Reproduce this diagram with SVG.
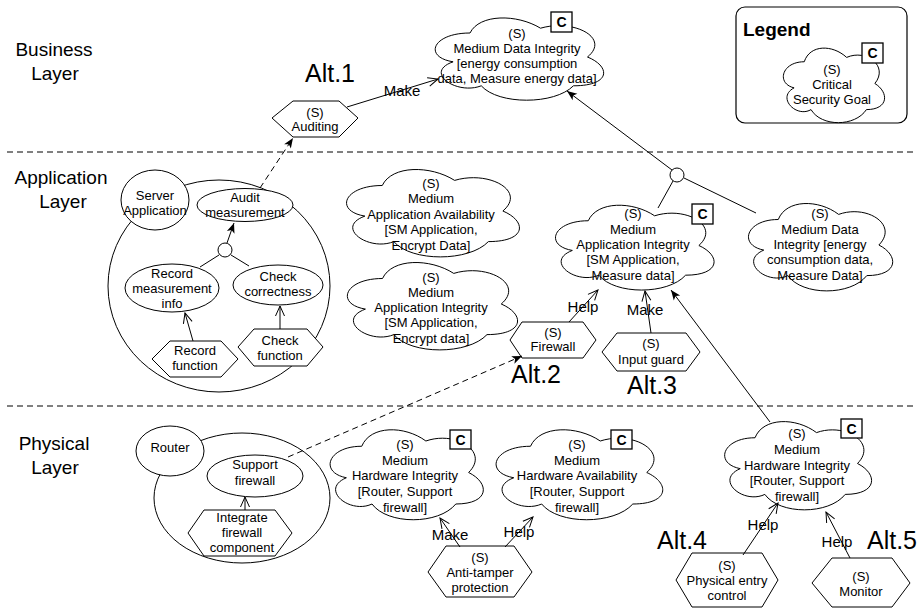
<svg xmlns="http://www.w3.org/2000/svg" xmlns:xlink="http://www.w3.org/1999/xlink" width="917" height="608" viewBox="0 0 917 608">
<style>
text{font-family:"Liberation Sans",Arial,Helvetica,sans-serif;fill:#000;}
.t{font-size:13px;text-anchor:middle;}
.lbl{font-size:15px;text-anchor:middle;}
.layer{font-size:19px;text-anchor:middle;}
.alt{font-size:25px;}
.shape{fill:#fff;stroke:#000;stroke-width:1;}
.cbox{fill:#fff;stroke:#000;stroke-width:1.3;}
.c{font-size:14px;font-weight:bold;text-anchor:middle;}
.ln{fill:none;stroke:#000;stroke-width:1;}
.dash{fill:none;stroke:#000;stroke-width:1;stroke-dasharray:6 4;}
</style>
<defs>
<path id="cloud" d="M25,25 C5,25 0,50 16,55 C0,66 18,90 31,80 C40,100 70,100 80,80 C100,80 100,60 87.5,50 C100,30 80,10 62.5,20 C50,5 30,5 25,25 Z" vector-effect="non-scaling-stroke"/>
<marker id="classic" markerWidth="12" markerHeight="10" refX="11" refY="5" orient="auto" markerUnits="userSpaceOnUse"><path d="M1,1 L11,5 L1,9 L3.5,5 Z" fill="#000"/></marker>
<marker id="open" markerWidth="12" markerHeight="12" refX="11" refY="6" orient="auto" markerUnits="userSpaceOnUse"><path d="M1,1.5 L11,6 L1,10.5" fill="none" stroke="#000" stroke-width="1"/></marker>
</defs>
<rect width="917" height="608" fill="#fff"/>

<g id="layers">
<line class="dash" x1="7" y1="152" x2="917" y2="152"/>
<line class="dash" x1="7" y1="406" x2="917" y2="406"/>
<text class="layer" x="54" y="56">Business</text>
<text class="layer" x="55" y="80">Layer</text>
<text class="layer" x="61" y="184">Application</text>
<text class="layer" x="63" y="208">Layer</text>
<text class="layer" x="54" y="450">Physical</text>
<text class="layer" x="55" y="474">Layer</text>
<text class="alt" x="305" y="82">Alt.1</text>
<text class="alt" x="511" y="383">Alt.2</text>
<text class="alt" x="627" y="394">Alt.3</text>
<text class="alt" x="657" y="549">Alt.4</text>
<text class="alt" x="867" y="549">Alt.5</text>
</g>

<g id="legend">
<rect x="736" y="7" width="171" height="116" rx="9" fill="#fff" stroke="#000" stroke-width="1.2"/>
<text x="743" y="36" style="font-size:19px;font-weight:bold">Legend</text>
<use href="#cloud" class="shape" transform="translate(776,40) scale(1.13,0.87)"/>
<rect class="cbox" x="862" y="43" width="21" height="20"/>
<text class="c" x="872.5" y="58">C</text>
<text class="t" x="832" y="73.5">(S)</text>
<text class="t" x="832" y="88.5">Critical</text>
<text class="t" x="832" y="103.5">Security Goal</text>
</g>

<g id="goal-data-integrity">
<use href="#cloud" class="shape" transform="translate(423,9) scale(1.88,0.96)"/>
<rect class="cbox" x="551" y="12" width="21" height="20"/>
<text class="c" x="561.5" y="27">C</text>
<text class="t" x="517" y="38">(S)</text>
<text class="t" x="517" y="53">Medium Data Integrity</text>
<text class="t" x="517" y="68">[energy consumption</text>
<text class="t" x="517" y="83">data, Measure energy data]</text>
</g>

<g id="auditing">
<polygon class="shape" points="272,118 293,101 339,101 358,118 339,137 293,137"/>
<text class="t" x="315" y="116.5">(S)</text>
<text class="t" x="315" y="131">Auditing</text>
</g>

<g id="server-application">
<ellipse class="shape" cx="219" cy="286" rx="111" ry="106"/>
<ellipse class="shape" cx="155" cy="200" rx="34" ry="30"/>
<text class="t" x="155" y="199.5">Server</text>
<text class="t" x="155" y="214.5">Application</text>
</g>

<g id="audit-measurement">
<ellipse class="shape" cx="245" cy="205" rx="48" ry="16.5"/>
<text class="t" x="245" y="201.5">Audit</text>
<text class="t" x="245" y="216.5">measurement</text>
</g>

<g id="and-app-left">
<circle class="shape" cx="225" cy="250" r="7"/>
</g>

<g id="record-measurement">
<ellipse class="shape" cx="172" cy="288" rx="47" ry="24"/>
<text class="t" x="172" y="277.5">Record</text>
<text class="t" x="172" y="292.5">measurement</text>
<text class="t" x="172" y="307.5">info</text>
</g>

<g id="check-correctness">
<ellipse class="shape" cx="278" cy="285" rx="45" ry="20"/>
<text class="t" x="278" y="280.5">Check</text>
<text class="t" x="278" y="295.5">correctness</text>
</g>

<g id="record-function">
<polygon class="shape" points="152,359 170,341 221,341 238,359 221,377 170,377"/>
<text class="t" x="195" y="354.5">Record</text>
<text class="t" x="195" y="369.5">function</text>
</g>

<g id="check-function">
<polygon class="shape" points="238,347 254,329 307,329 323,347 307,366 254,366"/>
<text class="t" x="280" y="344.5">Check</text>
<text class="t" x="280" y="359.5">function</text>
</g>

<g id="goal-app-availability">
<use href="#cloud" class="shape" transform="translate(334,160) scale(1.93,1.02)"/>
<text class="t" x="431" y="187.5">(S)</text>
<text class="t" x="431" y="203">Medium</text>
<text class="t" x="431" y="218.5">Application Availability</text>
<text class="t" x="431" y="234">[SM Application,</text>
<text class="t" x="431" y="249.5">Encrypt Data]</text>
</g>

<g id="goal-app-integrity-mid">
<use href="#cloud" class="shape" transform="translate(335,253) scale(1.90,1.02)"/>
<text class="t" x="431" y="281.5">(S)</text>
<text class="t" x="431" y="296.5">Medium</text>
<text class="t" x="431" y="311.5">Application Integrity</text>
<text class="t" x="431" y="327">[SM Application,</text>
<text class="t" x="431" y="342.5">Encrypt data]</text>
</g>

<g id="and-app-right">
<circle class="shape" cx="677" cy="175" r="7"/>
</g>

<g id="goal-app-integrity">
<use href="#cloud" class="shape" transform="translate(544,196) scale(1.77,0.99)"/>
<rect class="cbox" x="692" y="204" width="21" height="20"/>
<text class="c" x="702.5" y="219">C</text>
<text class="t" x="633" y="217.5">(S)</text>
<text class="t" x="633" y="233.5">Medium</text>
<text class="t" x="633" y="248.5">Application Integrity</text>
<text class="t" x="633" y="263.5">[SM Application,</text>
<text class="t" x="633" y="279.5">Measure data]</text>
</g>

<g id="goal-data-integrity-app">
<use href="#cloud" class="shape" transform="translate(738,194) scale(1.61,1.02)"/>
<text class="t" x="820" y="217.5">(S)</text>
<text class="t" x="820" y="233.5">Medium Data</text>
<text class="t" x="820" y="248.5">Integrity [energy</text>
<text class="t" x="820" y="263.5">consumption data,</text>
<text class="t" x="820" y="279.5">Measure Data]</text>
</g>

<g id="firewall">
<polygon class="shape" points="510,340 522,322 583,322 596,340 583,358 522,358"/>
<text class="t" x="553" y="336.5">(S)</text>
<text class="t" x="553" y="350.5">Firewall</text>
</g>

<g id="input-guard">
<polygon class="shape" points="602,352 617,333 686,333 700,352 686,371 617,371"/>
<text class="t" x="651" y="347.5">(S)</text>
<text class="t" x="651" y="363.5">Input guard</text>
</g>

<g id="router">
<ellipse class="shape" cx="242" cy="498" rx="88" ry="65"/>
<ellipse class="shape" cx="170" cy="451" rx="34" ry="25"/>
<text class="t" x="170" y="451.5">Router</text>
</g>

<g id="support-firewall">
<ellipse class="shape" cx="255" cy="476" rx="48" ry="21"/>
<text class="t" x="255" y="468.5">Support</text>
<text class="t" x="255" y="484.5">firewall</text>
</g>

<g id="integrate-firewall">
<polygon class="shape" points="188,533 204,510 275,510 292,533 275,556 204,556"/>
<text class="t" x="242" y="522">Integrate</text>
<text class="t" x="242" y="537">firewall</text>
<text class="t" x="242" y="552">component</text>
</g>

<g id="goal-hw-integrity-mid">
<use href="#cloud" class="shape" transform="translate(319,420) scale(1.71,1.05)"/>
<rect class="cbox" x="450" y="430" width="21" height="19"/>
<text class="c" x="460.5" y="444.5">C</text>
<text class="t" x="405" y="448.5">(S)</text>
<text class="t" x="405" y="464.5">Medium</text>
<text class="t" x="405" y="479.5">Hardware Integrity</text>
<text class="t" x="405" y="495.5">[Router, Support</text>
<text class="t" x="405" y="511.5">firewall]</text>
</g>

<g id="goal-hw-availability">
<use href="#cloud" class="shape" transform="translate(484,420) scale(1.86,1.05)"/>
<rect class="cbox" x="611" y="430" width="21" height="19"/>
<text class="c" x="621.5" y="444.5">C</text>
<text class="t" x="577" y="448.5">(S)</text>
<text class="t" x="577" y="464.5">Medium</text>
<text class="t" x="577" y="479.5">Hardware Availability</text>
<text class="t" x="577" y="495.5">[Router, Support</text>
<text class="t" x="577" y="511.5">firewall]</text>
</g>

<g id="anti-tamper">
<polygon class="shape" points="428,572 446,546 514,546 532,572 514,597 446,597"/>
<text class="t" x="480" y="561.5">(S)</text>
<text class="t" x="480" y="576.5">Anti-tamper</text>
<text class="t" x="480" y="591.5">protection</text>
</g>

<g id="goal-hw-integrity-right">
<use href="#cloud" class="shape" transform="translate(714,412) scale(1.64,1.03)"/>
<rect class="cbox" x="841" y="419" width="21" height="19"/>
<text class="c" x="851.5" y="433.5">C</text>
<text class="t" x="797" y="437.5">(S)</text>
<text class="t" x="797" y="453.5">Medium</text>
<text class="t" x="797" y="469.5">Hardware Integrity</text>
<text class="t" x="797" y="484.5">[Router, Support</text>
<text class="t" x="797" y="500.5">firewall]</text>
</g>

<g id="physical-entry">
<polygon class="shape" points="676,580 692,553 762,553 778,580 762,607 692,607"/>
<text class="t" x="727" y="570">(S)</text>
<text class="t" x="727" y="585">Physical entry</text>
<text class="t" x="727" y="600">control</text>
</g>

<g id="monitor">
<polygon class="shape" points="812,583 832,558 892,558 910,583 892,607 832,607"/>
<text class="t" x="861" y="581">(S)</text>
<text class="t" x="861" y="596">Monitor</text>
</g>

<g id="connectors">
<line class="ln" x1="347" y1="107" x2="438" y2="79" marker-end="url(#open)"/>
<text class="lbl" x="402" y="96">Make</text>
<line class="dash" x1="260" y1="188" x2="293" y2="138" marker-end="url(#classic)"/>
<line class="ln" x1="227" y1="243" x2="234" y2="223" marker-end="url(#classic)"/>
<line class="ln" x1="219" y1="255" x2="200" y2="267"/>
<line class="ln" x1="231" y1="255" x2="249" y2="266"/>
<line class="ln" x1="193" y1="341" x2="185" y2="313" marker-end="url(#open)"/>
<line class="ln" x1="280" y1="329" x2="280" y2="306" marker-end="url(#open)"/>
<line class="ln" x1="672" y1="170" x2="567" y2="91" marker-end="url(#classic)"/>
<line class="ln" x1="673" y1="181" x2="658" y2="208"/>
<line class="ln" x1="684" y1="178" x2="756" y2="213"/>
<line class="ln" x1="569" y1="322" x2="598" y2="290" marker-end="url(#open)"/>
<text class="lbl" x="583" y="312">Help</text>
<line class="ln" x1="651" y1="333" x2="645" y2="291" marker-end="url(#open)"/>
<text class="lbl" x="645" y="315">Make</text>
<line class="ln" x1="770" y1="422" x2="671" y2="290" marker-end="url(#classic)"/>
<line class="dash" x1="288" y1="457" x2="522" y2="356" marker-end="url(#classic)"/>
<line class="ln" x1="245" y1="510" x2="245" y2="497" marker-end="url(#open)"/>
<line class="ln" x1="460" y1="547" x2="440" y2="518" marker-end="url(#open)"/>
<text class="lbl" x="450" y="540">Make</text>
<line class="ln" x1="505" y1="547" x2="533" y2="517" marker-end="url(#open)"/>
<text class="lbl" x="519" y="537">Help</text>
<line class="ln" x1="743" y1="555" x2="778" y2="503" marker-end="url(#open)"/>
<text class="lbl" x="763" y="530">Help</text>
<line class="ln" x1="850" y1="558" x2="826" y2="512" marker-end="url(#open)"/>
<text class="lbl" x="837" y="547">Help</text>
</g>
</svg>
